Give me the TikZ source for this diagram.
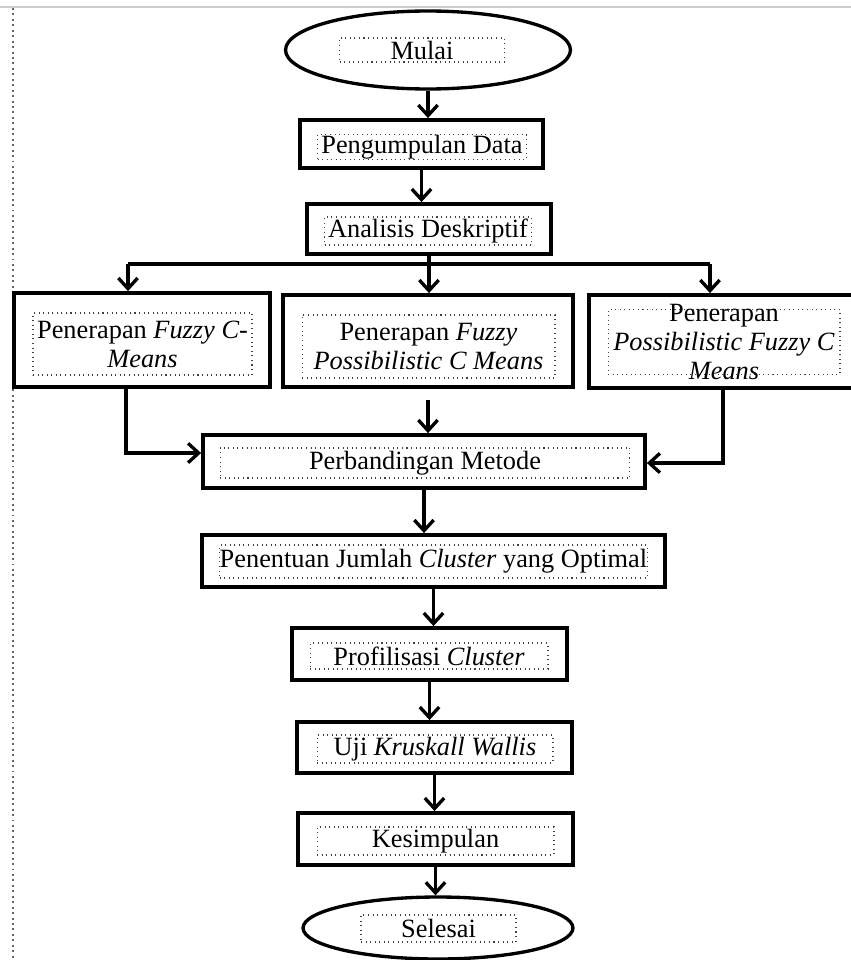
\documentclass[tikz,border=0pt]{standalone}
\usepackage{fontspec}
\setmainfont{Liberation Serif}
\usetikzlibrary{arrows.meta}
\usetikzlibrary{shapes.geometric}

\begin{document}
\begin{tikzpicture}[x=0.02cm,y=-0.02cm,
	font=\fontsize{15}{16.5}\selectfont,
	box/.style={draw, line width=2.2pt, rectangle, inner sep=0pt},
	term/.style={draw, line width=1.9pt, ellipse, inner sep=0pt},
	tbox/.style={draw=black!75, dotted, line width=0.6pt, inner sep=0pt, align=center},
	arr/.style={line width=1.9pt, -{Straight Barb[length=6pt,width=11pt]}}]
	\useasboundingbox (0,0) rectangle (851,960);
	% page edges
	\draw[black!20, line width=0.8pt] (0,7) -- (851,7);
	\draw[black!60, dotted, line width=1.1pt] (13,8) -- (13,960);
	
	% start
	\node[term, minimum width=5.7cm, minimum height=1.56cm] (mulai) at (428,50) {};
	\node[tbox, minimum width=3.3cm, minimum height=0.48cm] (tmulai) at (422,50) {Mulai};
	
	% boxes in the main column
	\node[box, minimum width=4.86cm, minimum height=0.96cm] (data) at (421.5,144) {};
	\node[tbox, minimum width=4.18cm, minimum height=0.5cm] (tdata) at (422,147) {Pengumpulan Data};
	\node[box, minimum width=4.88cm, minimum height=1.0cm] (analisis) at (429,229) {};
	\node[tbox, minimum width=4.14cm, minimum height=0.56cm] (tanalisis) at (428,231) {Analisis Deskriptif};
	
	% the three methods
	\node[box, minimum width=5.12cm, minimum height=1.88cm] (fcm) at (142,340) {};
	\node[tbox, minimum width=4.38cm, minimum height=1.24cm] (tfcm) at (142.5,344) {Penerapan \textit{Fuzzy C-}\\\textit{Means}};
	\node[box, minimum width=5.8cm, minimum height=1.84cm] (fpcm) at (428,341) {};
	\node[tbox, minimum width=5.06cm, minimum height=1.26cm] (tfpcm) at (428.5,346.5) {Penerapan \textit{Fuzzy}\\\textit{Possibilistic C Means}};
	\node[box, minimum width=5.34cm, minimum height=1.86cm] (pfcm) at (722.5,341.5) {};
	\node[tbox, minimum width=4.64cm, inner ysep=-3pt] (tpfcm) at (724,342) {Penerapan\\\textit{Possibilistic Fuzzy C}\\\textit{Means}};
	
	\node[box, minimum width=8.84cm, minimum height=1.06cm] (banding) at (424,461.5) {};
	\node[tbox, minimum width=8.2cm, minimum height=0.6cm] (tbanding) at (425,463) {Perbandingan Metode};
	\node[box, minimum width=9.26cm, minimum height=1.04cm] (optimal) at (433.5,561) {};
	\node[tbox, minimum width=8.54cm, minimum height=0.66cm] (toptimal) at (433.5,561.5) {Penentuan Jumlah \textit{Cluster} yang Optimal};
	\node[box, minimum width=5.5cm, minimum height=1.04cm] (profil) at (429.5,654) {};
	\node[tbox, minimum width=4.76cm, minimum height=0.52cm] (tprofil) at (429,656) {Profilisasi \textit{Cluster}};
	\node[box, minimum width=5.5cm, minimum height=1.02cm] (uji) at (434.5,747.5) {};
	\node[tbox, minimum width=4.72cm, minimum height=0.56cm] (tuji) at (435,749) {Uji \textit{Kruskall Wallis}};
	\node[box, minimum width=5.5cm, minimum height=1.04cm] (simpul) at (435.5,839) {};
	\node[tbox, minimum width=4.74cm, minimum height=0.56cm] (tsimpul) at (435.5,841) {Kesimpulan};
	
	% end
	\node[term, minimum width=5.4cm, minimum height=1.24cm] (selesai) at (438,928) {};
	\node[tbox, minimum width=3.1cm, minimum height=0.54cm] (tselesai) at (438.5,928.5) {Selesai};
	
	% arrows
	\draw[arr] (mulai.south) -- (mulai.south |- data.north);
	\draw[arr] (data.south) -- (data.south |- analisis.north);
	
	% split into three
	\coordinate (s1) at (128,264);
	\coordinate (s3) at (710,264);
	\draw[line width=1.9pt] (s1) -- (s3);
	\draw[arr] (analisis.south) -- (analisis.south |- fpcm.north);
	\draw[arr] (s1) -- (s1 |- fcm.north);
	\draw[arr] (s3) -- (s3 |- pfcm.north);
	
	% join again
	\coordinate (l1) at (126,453);
	\coordinate (r1) at (723,463);
	\draw[arr] (l1 |- fcm.south) -- (l1) -- (l1 -| banding.west);
	\draw[arr] (r1 |- pfcm.south) -- (r1) -- (r1 -| banding.east);
	\draw[arr, shorten <=0.22cm] (fpcm.south) -- (fpcm.south |- banding.north);
	
	\draw[arr] (banding.south) -- (banding.south |- optimal.north);
	\draw[arr] (optimal.south) -- (optimal.south |- profil.north);
	\draw[arr] (profil.south) -- (profil.south |- uji.north);
	\draw[arr] (uji.south) -- (uji.south |- simpul.north);
	\draw[arr] (simpul.south) -- (simpul.south |- selesai.north);
\end{tikzpicture}
\end{document}
